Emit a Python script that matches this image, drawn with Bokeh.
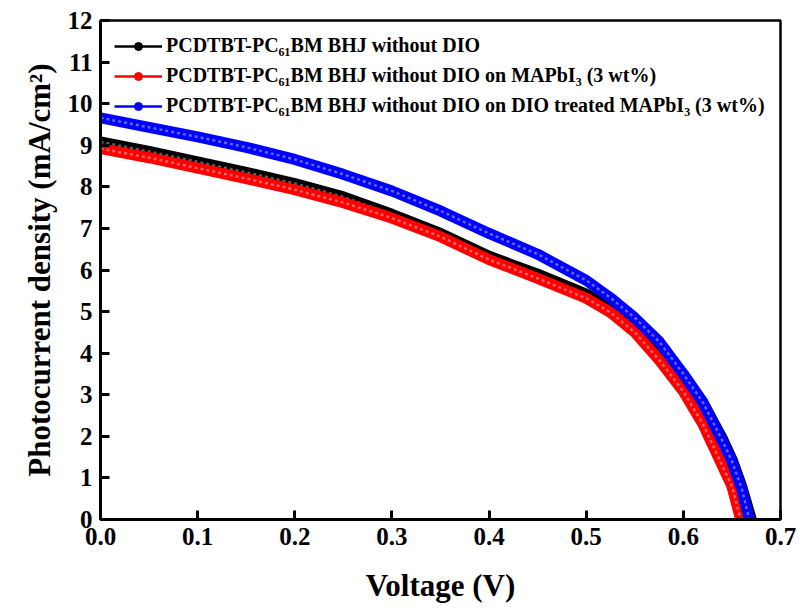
import math
from bokeh.plotting import figure
from bokeh.models import ColumnDataSource, Legend, LegendItem, FixedTicker, NumeralTickFormatter, Range1d
from bokeh.embed import file_html
from bokeh.resources import INLINE

# ---- data ----
voltage_black = [0.0, 0.05, 0.1, 0.15, 0.2, 0.25, 0.3, 0.35, 0.4, 0.45, 0.5, 0.525, 0.55, 0.575, 0.6, 0.62, 0.64, 0.65, 0.66, 0.67]
current_black = [9.08, 8.85, 8.6, 8.35, 8.08, 7.76, 7.34, 6.88, 6.33, 5.9, 5.42, 5.1, 4.7, 4.22, 3.48, 2.82, 1.95, 1.45, 0.8, 0.0]

voltage_red = [0.0, 0.05, 0.1, 0.15, 0.2, 0.25, 0.3, 0.35, 0.4, 0.45, 0.5, 0.525, 0.55, 0.575, 0.6, 0.62, 0.64, 0.65, 0.659]
current_red = [8.92, 8.7, 8.45, 8.2, 7.93, 7.62, 7.25, 6.8, 6.25, 5.8, 5.32, 4.98, 4.5, 3.84, 3.08, 2.3, 1.3, 0.8, 0.0]

voltage_blue = [0.0, 0.05, 0.1, 0.15, 0.2, 0.25, 0.3, 0.35, 0.4, 0.45, 0.5, 0.525, 0.55, 0.575, 0.6, 0.62, 0.64, 0.65, 0.66, 0.668]
current_blue = [9.66, 9.43, 9.2, 8.95, 8.66, 8.3, 7.9, 7.42, 6.88, 6.38, 5.75, 5.33, 4.85, 4.28, 3.5, 2.82, 1.9, 1.4, 0.75, 0.0]

labels = [
    "PCDTBT-PC\u2086\u2081BM BHJ without DIO",
    "PCDTBT-PC\u2086\u2081BM BHJ without DIO on MAPbI\u2083 (3 wt%)",
    "PCDTBT-PC\u2086\u2081BM BHJ without DIO on DIO treated MAPbI\u2083 (3 wt%)",
]
x_ticks = [0.0, 0.1, 0.2, 0.3, 0.4, 0.5, 0.6, 0.7]
y_ticks = list(range(0, 13))

FONT = "Liberation Serif"

p = figure(width=800, height=609, output_backend="svg", toolbar_location=None,
           x_range=Range1d(0, 0.7), y_range=Range1d(0, 12),
           min_border_left=100, min_border_right=20, min_border_top=20, min_border_bottom=90)
p.grid.visible = False
p.background_fill_color = "white"
p.outline_line_color = "black"
p.outline_line_width = 2.5

series = [
    (voltage_black, current_black, "#000000", "#8a8a8a"),
    (voltage_red, current_red, "#ff0000", "#ff9090"),
    (voltage_blue, current_blue, "#0000ff", "#9090ff"),
]

items = []
for (vx, vy, col, light), lab in zip(series, labels):
    src = ColumnDataSource(dict(x=vx, y=vy))
    p.line("x", "y", source=src, line_color=col, line_width=11, line_cap="butt", line_join="round")
    p.line("x", "y", source=src, line_color=light, line_width=2.5, line_alpha=0.7, line_dash="3 3")
    # legend-only glyphs
    dummy = ColumnDataSource(dict(x=[math.nan], y=[math.nan]))
    lr = p.line("x", "y", source=dummy, line_color=col, line_width=2.5)
    sr = p.scatter("x", "y", source=dummy, marker="circle", size=10, fill_color=col, line_color=col)
    items.append(LegendItem(label=lab, renderers=[lr, sr]))

legend = Legend(items=items, location="top_left", margin=5, padding=9,
                glyph_width=48, glyph_height=20, label_height=20, spacing=7,
                label_standoff=4, label_text_font=FONT, label_text_font_style="bold",
                label_text_color="black",
                label_text_font_size="20px", background_fill_alpha=0, border_line_alpha=0)
p.add_layout(legend, "center")

for ax in (p.xaxis[0], p.yaxis[0]):
    ax.axis_line_width = 3
    ax.major_tick_in = 9
    ax.major_tick_out = 0
    ax.major_tick_line_width = 3
    ax.minor_tick_line_color = None
    ax.major_label_text_font = FONT
    ax.major_label_text_font_style = "bold"
    ax.major_label_text_font_size = "25px"
    ax.major_label_text_color = "black"
    ax.axis_label_text_font = FONT
    ax.axis_label_text_font_style = "bold"
    ax.axis_label_text_font_size = "31px"
    ax.axis_label_text_color = "black"

p.xaxis.ticker = FixedTicker(ticks=x_ticks)
p.xaxis.formatter = NumeralTickFormatter(format="0.0")
p.yaxis.ticker = FixedTicker(ticks=y_ticks)
p.xaxis.axis_label = "Voltage (V)"
p.yaxis.axis_label = "Photocurrent density (mA/cm\u00b2)"
p.xaxis.major_label_standoff = 8
p.yaxis.major_label_standoff = 8
p.xaxis.axis_label_standoff = 20
p.yaxis.axis_label_standoff = 8

open("out.html", "w").write(file_html(p, INLINE))
